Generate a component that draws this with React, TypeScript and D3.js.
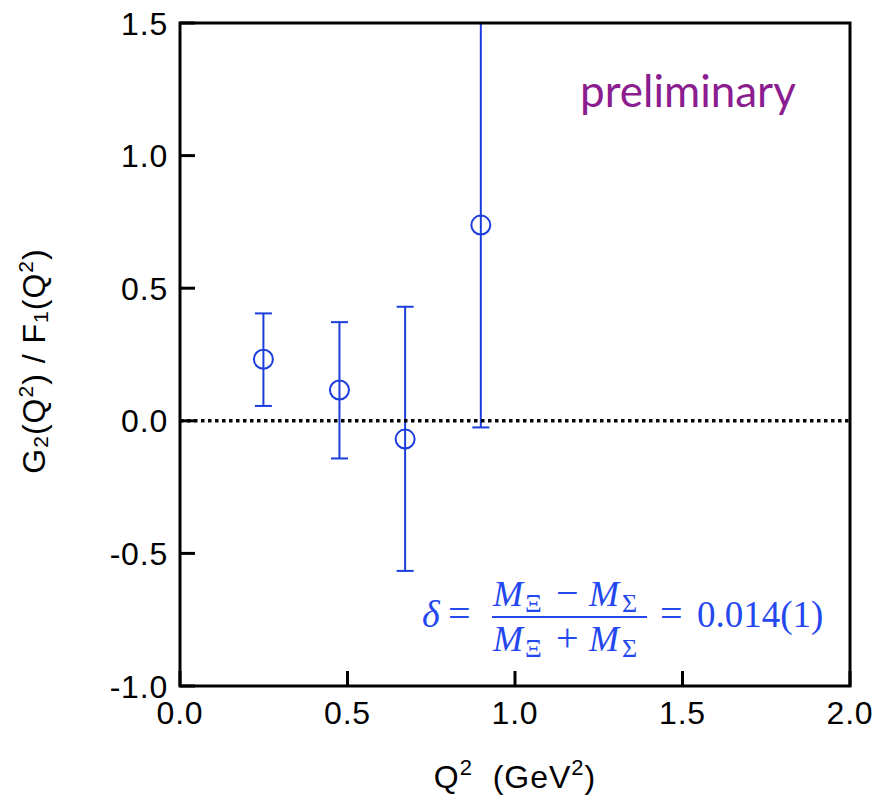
import React from "react";
import * as d3 from "d3";

const xTicks = [0.0, 0.5, 1.0, 1.5, 2.0];
const yTicks = [-1.0, -0.5, 0.0, 0.5, 1.0, 1.5];
const q2 = [0.249, 0.476, 0.672, 0.898];
const ratio = [0.232, 0.116, -0.069, 0.738];
const errHigh = [0.405, 0.372, 0.43, 1.5];
const errLow = [0.056, -0.142, -0.566, -0.025];

const W = 878;
const H = 799;
const BLUE = "#1b3ddc";
const FBLUE = "#2447f0";
const PURPLE = "#8c1d90";
const SANS = "'Liberation Sans', Arial, Helvetica, sans-serif";
const SERIF = "'Liberation Serif', 'Times New Roman', serif";

export default function App() {
  const x = d3.scaleLinear().domain([0, 2]).range([180, 850]);
  const y = d3.scaleLinear().domain([-1, 1.5]).range([686, 23]);
  const fmt = (v: number) => d3.format(".1f")(v).replace("\u2212", "-");
  const pts = q2.map((q, i) => ({ q, r: ratio[i], hi: errHigh[i], lo: errLow[i] }));
  const [x0, x1] = x.range();
  const [y0, y1] = y.range();
  const tick = 15;
  const cap = 8.5;

  return (
    <svg
      width={W}
      height={H}
      style={{ position: "absolute", left: 0, top: 0, background: "#fff" }}
    >
      <rect x={0} y={0} width={W} height={H} fill="#fff" />
      {/* data */}
      <g stroke={BLUE} strokeWidth={2} fill="none">
        {pts.map((p, i) => (
          <g key={i}>
            <line x1={x(p.q)} x2={x(p.q)} y1={y(p.hi)} y2={y(p.lo)} />
            <line x1={x(p.q) - cap} x2={x(p.q) + cap} y1={y(p.hi)} y2={y(p.hi)} />
            <line x1={x(p.q) - cap} x2={x(p.q) + cap} y1={y(p.lo)} y2={y(p.lo)} />
            <circle cx={x(p.q)} cy={y(p.r)} r={9.5} />
          </g>
        ))}
      </g>
      {/* zero line */}
      <line
        x1={x(0)}
        x2={x(2)}
        y1={y(0)}
        y2={y(0)}
        stroke="#000"
        strokeWidth={3.5}
        strokeDasharray="3.5 3.5"
      />
      {/* frame */}
      <rect
        x={x0}
        y={y1}
        width={x1 - x0}
        height={y0 - y1}
        fill="none"
        stroke="#000"
        strokeWidth={3}
      />
      {/* ticks */}
      <g stroke="#000" strokeWidth={3}>
        {yTicks.map((t) => (
          <line key={"yt" + t} x1={x0} x2={x0 + tick} y1={y(t)} y2={y(t)} />
        ))}
        {xTicks.map((t) => (
          <line key={"xt" + t} x1={x(t)} x2={x(t)} y1={y0} y2={y0 - tick} />
        ))}
      </g>
      {/* tick labels */}
      <g fontFamily={SANS} fontSize={32} letterSpacing={0.8} fill="#000">
        {yTicks.map((t) => (
          <text key={"yl" + t} x={168} y={y(t) + 11.5} textAnchor="end">
            {fmt(t)}
          </text>
        ))}
        {xTicks.map((t) => (
          <text key={"xl" + t} x={x(t)} y={724} textAnchor="middle">
            {fmt(t)}
          </text>
        ))}
      </g>
      {/* x title */}
      <text
        x={515}
        y={788}
        textAnchor="middle"
        fontFamily={SANS}
        fontSize={32}
        letterSpacing={1}
        fill="#000"
      >
        Q
        <tspan fontSize={22} dy={-13}>2</tspan>
        <tspan dy={13}>{"\u00a0 (GeV"}</tspan>
        <tspan fontSize={22} dy={-13}>2</tspan>
        <tspan dy={13}>)</tspan>
      </text>
      {/* y title */}
      <text
        transform="translate(45,361) rotate(-90)"
        textAnchor="middle"
        fontFamily={SANS}
        fontSize={32}
        letterSpacing={1}
        fill="#000"
      >
        G
        <tspan fontSize={21} dy={3}>2</tspan>
        <tspan dy={-3}>(Q</tspan>
        <tspan fontSize={21} dy={-12}>2</tspan>
        <tspan dy={12}>) / F</tspan>
        <tspan fontSize={21} dy={3}>1</tspan>
        <tspan dy={-3}>(Q</tspan>
        <tspan fontSize={21} dy={-12}>2</tspan>
        <tspan dy={12}>)</tspan>
      </text>
      {/* preliminary */}
      <text
        x={580}
        y={107}
        fontFamily="Lato, 'Open Sans', sans-serif"
        fontSize={44}
        fill={PURPLE}
      >
        preliminary
      </text>
      {/* formula */}
      <g fontFamily={SERIF} fill={FBLUE} fontSize={36}>
        <text x={422} y={627} fontStyle="italic" fontSize={38}>δ</text>
        <text x={448} y={627} fontSize={40}>=</text>
        <line x1={492} x2={647} y1={617} y2={617} stroke={FBLUE} strokeWidth={2.2} />
        <text y={606}>
          <tspan x={493} fontStyle="italic">M</tspan>
          <tspan x={525} dy={6} fontSize={26}>Ξ</tspan>
          <tspan x={556} dy={-6} fontSize={40}>−</tspan>
          <tspan x={589} fontStyle="italic">M</tspan>
          <tspan x={622} dy={6} fontSize={26}>Σ</tspan>
        </text>
        <text y={651}>
          <tspan x={493} fontStyle="italic">M</tspan>
          <tspan x={525} dy={6} fontSize={26}>Ξ</tspan>
          <tspan x={556} dy={-6} fontSize={40}>+</tspan>
          <tspan x={589} fontStyle="italic">M</tspan>
          <tspan x={622} dy={6} fontSize={26}>Σ</tspan>
        </text>
        <text x={660} y={627} fontSize={40}>=</text>
        <text x={697} y={627} fontSize={37}>0.014(1)</text>
      </g>
    </svg>
  );
}
